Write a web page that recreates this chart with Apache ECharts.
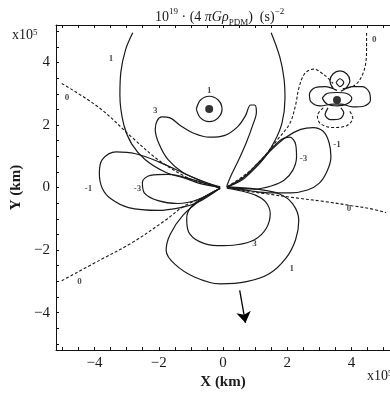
<!DOCTYPE html>
<html>
<head>
<meta charset="utf-8">
<script src="https://cdn.jsdelivr.net/npm/echarts@6/dist/echarts.min.js"></script>
<style>
  html, body { margin: 0; padding: 0; background: #fff; }
  #chart { width: 390px; height: 395px; }
</style>
</head>
<body>
<div id="chart"></div>
<script>
// 刻度
const xTickLabels = [-4, -2, 0, 2, 4];
const yTickLabels = [-4, -2, 0, 2, 4];
const minorTicks = [-5, -4.5, -4, -3.5, -3, -2.5, -2, -1.5, -1, -0.5, 0, 0.5, 1, 1.5, 2, 2.5, 3, 3.5, 4, 4.5, 5];

// 等值线 (x, y 单位 10^5 km)
const level1TopLeft = [[-2.81, 4.95], [-3.03, 4.42], [-3.18, 3.70], [-3.21, 2.95], [-3.09, 2.01], [-2.84, 1.39], [-2.42, 0.89], [-1.77, 0.48], [-1.19, 0.30], [-0.64, 0.11], [-0.09, 0.02]];
const level1TopRight = [[0.12, 0.02], [0.64, 0.33], [1.19, 0.83], [1.59, 1.45], [1.84, 2.08], [1.93, 2.86], [1.90, 3.48], [1.77, 4.17], [1.50, 4.95]];
const level3Top = [[-0.09, 0.02], [-0.64, 0.20], [-1.25, 0.48], [-1.71, 0.89], [-1.99, 1.39], [-2.11, 1.86], [-2.05, 2.14], [-1.90, 2.26], [-1.65, 2.23], [-1.32, 1.98], [-0.89, 1.73], [-0.43, 1.61], [0.06, 1.67], [0.46, 1.95], [0.70, 2.30], [0.86, 2.64], [0.98, 2.64], [1.04, 2.42], [0.92, 1.98], [0.73, 1.45], [0.49, 0.89], [0.24, 0.36], [0.12, 0.05]];
const levelM1Left = [[-0.09, -0.02], [-1.01, 0.36], [-2.02, 0.83], [-2.72, 1.08], [-3.33, 1.14], [-3.76, 0.89], [-3.85, 0.45], [-3.76, -0.02], [-3.49, -0.36], [-2.94, -0.64], [-2.02, -0.73], [-1.32, -0.64], [-0.80, -0.48], [-0.09, -0.02]];
const levelM3Left = [[-0.09, -0.02], [-1.01, 0.27], [-1.71, 0.42], [-2.26, 0.39], [-2.51, 0.17], [-2.45, -0.17], [-2.02, -0.42], [-1.41, -0.51], [-0.80, -0.39], [-0.09, -0.02]];
const levelM1Right = [[0.12, 0.02], [0.58, 0.23], [1.04, 0.67], [1.50, 1.20], [1.96, 1.61], [2.42, 1.86], [2.81, 1.92], [3.12, 1.80], [3.30, 1.45], [3.36, 0.98], [3.24, 0.52], [3.00, 0.14], [2.63, -0.08], [2.11, -0.17], [1.50, -0.17], [0.89, -0.11], [0.12, 0.02]];
const levelM3Right = [[0.12, 0.02], [0.58, 0.27], [1.04, 0.73], [1.50, 1.23], [1.84, 1.55], [2.08, 1.61], [2.26, 1.39], [2.29, 0.98], [2.17, 0.55], [1.90, 0.23], [1.50, 0.05], [0.98, -0.05], [0.12, 0.02]];
const level3Bottom = [[-0.09, -0.02], [-0.64, -0.33], [-1.01, -0.64], [-1.13, -0.98], [-1.07, -1.42], [-0.73, -1.73], [-0.18, -1.86], [0.43, -1.83], [0.98, -1.67], [1.35, -1.30], [1.47, -0.83], [1.32, -0.45], [0.98, -0.23], [0.58, -0.11], [0.12, -0.02]];
const level1Bottom = [[-0.09, -0.02], [-0.64, -0.36], [-1.25, -0.89], [-1.65, -1.51], [-1.77, -2.01], [-1.50, -2.45], [-0.89, -2.86], [-0.09, -3.08], [0.73, -3.01], [1.44, -2.76], [1.96, -2.26], [2.26, -1.67], [2.36, -1.05], [2.17, -0.52], [1.74, -0.20], [1.04, -0.05], [0.12, 0.02]];
const level1Ring = [[-0.83, 2.51], [-0.70, 2.80], [-0.43, 2.92], [-0.15, 2.80], [-0.03, 2.51], [-0.15, 2.23], [-0.43, 2.11], [-0.70, 2.23], [-0.83, 2.51]];

// 零值线 (虚线)
const zeroUpperLeft = [[-5.02, 3.33], [-3.85, 2.55], [-2.84, 1.61], [-2.02, 0.89], [-1.19, 0.36], [-0.64, 0.14], [-0.09, 0.02]];
const zeroLowerLeft = [[-5.02, -2.98], [-3.85, -2.33], [-2.84, -1.77], [-1.80, -1.05], [-1.19, -0.58], [-0.58, -0.30], [-0.09, -0.02]];
const zeroRight = [[0.12, 0.02], [0.73, -0.11], [1.35, -0.20], [2.26, -0.33], [3.18, -0.45], [4.01, -0.58], [4.56, -0.67], [5.08, -0.80]];
const zeroUpperRight = [[0.12, 0.02], [0.58, 0.33], [0.98, 0.67], [1.35, 1.08], [1.71, 1.55], [2.08, 2.05], [2.26, 2.64], [2.36, 3.17], [2.54, 3.64], [2.81, 3.79], [3.18, 3.58], [3.43, 3.33]];
const zeroTop = [[3.73, 3.17], [4.04, 3.23], [4.28, 3.48], [4.44, 3.95], [4.47, 4.48], [4.47, 4.95]];
const zeroFlowerBottom = [[3.12, 2.55], [2.94, 2.30], [3.03, 2.05], [3.43, 1.92], [3.85, 1.98], [4.04, 2.23], [3.92, 2.48]];

// 右上小天体附近的等值线
const flowerOuter = [[3.55, 3.11], [3.43, 3.17], [3.33, 3.42], [3.43, 3.64], [3.64, 3.73], [3.85, 3.64], [3.95, 3.42], [3.82, 3.17], [3.67, 3.08], [4.04, 3.23], [4.34, 3.23], [4.56, 3.04], [4.59, 2.79], [4.40, 2.61], [4.04, 2.58], [3.67, 2.67], [3.43, 2.67], [3.03, 2.61], [2.75, 2.73], [2.69, 2.98], [2.88, 3.20], [3.18, 3.23], [3.55, 3.11]];
const flowerTop = [[3.52, 3.36], [3.64, 3.48], [3.76, 3.36], [3.64, 3.23], [3.52, 3.36]];
const flowerInner = [[3.09, 2.86], [3.24, 3.01], [3.55, 3.04], [3.85, 3.01], [4.01, 2.86], [3.85, 2.67], [3.55, 2.61], [3.24, 2.67], [3.09, 2.86]];
const flowerBottom = [[3.27, 2.55], [3.18, 2.33], [3.36, 2.17], [3.64, 2.20], [3.76, 2.39], [3.67, 2.55]];

// 质量点
const bodies = [[-0.43, 2.51], [3.55, 2.80]];

// 运动方向箭头
const arrowStart = [0.52, -3.29];
const arrowEnd = [0.70, -4.33];

// 等值线标注
const contourLabels = [
    [-3.49, 4.11, '1'], [-0.43, 3.11, '1'], [-2.11, 2.45, '3'],
    [-4.19, -0.05, '-1'], [-2.66, -0.05, '-3'], [-4.86, 2.86, '0'],
    [-4.47, -3.01, '0'], [0.98, -1.80, '3'], [2.14, -2.58, '1'],
    [3.92, -0.67, '0'], [2.51, 0.92, '-3'], [3.55, 1.36, '-1'],
    [4.71, 4.73, '0']
];

const solidLines = [level1TopLeft, level1TopRight, level3Top, levelM1Left, levelM3Left, levelM1Right, levelM3Right,
    level3Bottom, level1Bottom, level1Ring, flowerOuter, flowerTop, flowerInner, flowerBottom];
const dashedLines = [zeroUpperLeft, zeroLowerLeft, zeroRight, zeroUpperRight, zeroTop, zeroFlowerBottom];

const serif = "'Liberation Serif', 'DejaVu Serif', serif";
const ink = '#1a1a1a';
const fmt = v => (v < 0 ? '\u2212' + Math.abs(v) : String(v));

const series = [];
solidLines.forEach(d => {
    series.push({
        type: 'line', data: d, smooth: 0.35, showSymbol: false, silent: true,
        lineStyle: { color: ink, width: 1.2 }
    });
});
dashedLines.forEach(d => {
    series.push({
        type: 'line', data: d, smooth: 0.35, showSymbol: false, silent: true,
        lineStyle: { color: ink, width: 1.1, type: [3, 2] }
    });
});
series.push({
    type: 'scatter', data: bodies, symbolSize: 8, itemStyle: { color: '#000' }, silent: true
});
series.push({
    type: 'scatter', data: contourLabels, symbolSize: 0, silent: true,
    label: {
        show: true, position: 'inside', formatter: p => p.value[2],
        fontFamily: serif, fontSize: 9, fontWeight: 'bold', color: ink
    }
});
series.push({
    type: 'lines', coordinateSystem: 'cartesian2d', silent: true,
    symbol: ['none', 'arrow'], symbolSize: 11,
    lineStyle: { color: '#000', width: 1.3, curveness: 0, opacity: 1 },
    data: [{ coords: [arrowStart, arrowEnd] }]
});

const axisLineStyle = { color: '#111', width: 1 };
const tickStyle = { color: '#111', width: 1 };

const option = {
    animation: false,
    title: {
        left: 150, top: 2,
        text: '{a|10}{sup|19}{a| \u00b7 (4 }{i|\u03c0G\u03c1}{sub|PDM}{a|)  (s)}{sup|\u22122}',
        textStyle: {
            fontWeight: 'normal',
            rich: {
                a: { fontFamily: serif, fontSize: 14, fontWeight: 'normal', color: ink, lineHeight: 20 },
                i: { fontFamily: serif, fontSize: 14, fontWeight: 'normal', fontStyle: 'italic', color: ink, lineHeight: 20 },
                sup: { fontFamily: serif, fontSize: 9, fontWeight: 'normal', color: ink, verticalAlign: 'top', lineHeight: 20 },
                sub: { fontFamily: serif, fontSize: 9, fontWeight: 'normal', color: ink, verticalAlign: 'bottom', lineHeight: 20 }
            }
        }
    },
    graphic: [
        {
            type: 'text', left: 12, top: 28,
            style: { rich: {
                a: { fontFamily: serif, fontSize: 14, fill: ink },
                s: { fontFamily: serif, fontSize: 9, fill: ink, verticalAlign: 'top' }
            }, text: '{a|x10}{s|5}' }
        },
        {
            type: 'text', left: 367, top: 369,
            style: { rich: {
                a: { fontFamily: serif, fontSize: 14, fill: ink },
                s: { fontFamily: serif, fontSize: 9, fill: ink, verticalAlign: 'top' }
            }, text: '{a|x10}{s|5}' }
        }
    ],
    grid: { left: 56, right: -6, top: 25, bottom: 37 },
    xAxis: [
        {
            type: 'value', min: -5.2, max: 5.2, position: 'bottom',
            axisLine: { show: true, onZero: false, lineStyle: axisLineStyle },
            axisTick: { show: true, inside: true, length: 3, customValues: minorTicks, lineStyle: tickStyle },
            axisLabel: { customValues: xTickLabels, formatter: fmt, fontFamily: serif, fontSize: 15, color: ink, margin: 5 },
            splitLine: { show: false },
            name: 'X (km)', nameLocation: 'middle', nameGap: 20,
            nameTextStyle: { fontFamily: serif, fontSize: 15, fontWeight: 'bold', color: ink }
        },
        {
            type: 'value', min: -5.2, max: 5.2, position: 'top',
            axisLine: { show: true, onZero: false, lineStyle: axisLineStyle },
            axisTick: { show: true, inside: true, length: 3, customValues: minorTicks, lineStyle: tickStyle },
            axisLabel: { show: false }, splitLine: { show: false }
        }
    ],
    yAxis: [
        {
            type: 'value', min: -5.2, max: 5.2, position: 'left',
            axisLine: { show: true, onZero: false, lineStyle: axisLineStyle },
            axisTick: { show: true, inside: true, length: 3, customValues: minorTicks, lineStyle: tickStyle },
            axisLabel: { customValues: yTickLabels, formatter: fmt, fontFamily: serif, fontSize: 15, color: ink, margin: 6 },
            splitLine: { show: false },
            name: 'Y (km)', nameLocation: 'middle', nameGap: 24,
            nameTextStyle: { fontFamily: serif, fontSize: 15, fontWeight: 'bold', color: ink }
        },
        {
            type: 'value', min: -5.2, max: 5.2, position: 'right',
            axisLine: { show: true, onZero: false, lineStyle: axisLineStyle },
            axisTick: { show: false }, axisLabel: { show: false }, splitLine: { show: false }
        }
    ],
    series: series
};

const chart = echarts.init(document.getElementById('chart'));
chart.setOption(option);
</script>
</body>
</html>
